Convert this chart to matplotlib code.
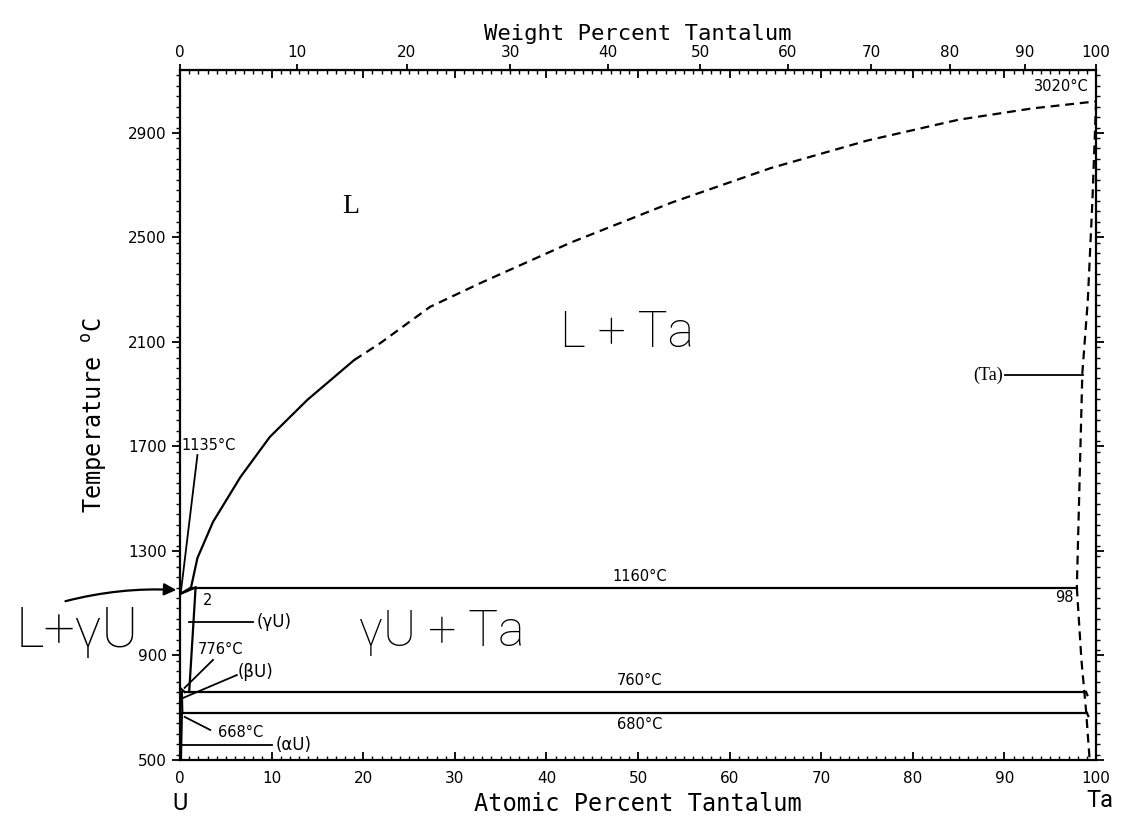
import numpy as np
import matplotlib
matplotlib.use('Agg')
import matplotlib.pyplot as plt
from matplotlib.patches import FancyArrowPatch
from matplotlib.ticker import MultipleLocator

# atomic masses used to convert at.% to wt.%
M_U = 238.03
M_TA = 180.95

# liquidus, solid part (at.% Ta, deg C)
liq_solid_at = [1.2, 1.9, 3.6, 6.6, 9.8, 13.9, 19.0]
liq_solid_T = [1160, 1273, 1411, 1583, 1736, 1878, 2030]

# liquidus, dashed part
liq_dash_at = [19.0, 21.9, 27.3, 32.8, 42.6, 53.6, 64.5, 75.0, 85.0, 93.0, 100.0]
liq_dash_T = [2030, 2096, 2234, 2325, 2479, 2632, 2765, 2870, 2950, 2993, 3020]

# (Ta) solidus and solvus on the Ta side
ta_solidus_at = [100.0, 99.6, 99.1, 98.5, 97.9]
ta_solidus_T = [3020, 2640, 2260, 1980, 1160]
ta_solvus_at = [97.9, 98.4, 98.9, 99.3]
ta_solvus_T = [1160, 883, 691, 500]

# invariant lines
invariants_T = [1160, 760, 680]
invariants_left = [1.2, 0.5, 0.2]
invariants_right = [97.9, 98.9, 99.0]
invariant_labels = ['1160°C', '760°C', '680°C']
invariant_label_above = [True, True, False]

# U-rich corner
gamma_solvus_at = [1.7, 1.0]
gamma_solvus_T = [1160, 760]
u_liq_at = [0, 1.2]
u_liq_T = [1135, 1160]
u_sol_at = [0, 1.7]
u_sol_T = [1135, 1160]
beta_top_at = [0, 0.5]
beta_top_T = [776, 760]
beta_solvus_at = [0.2, 0.25]
beta_solvus_T = [760, 680]
alpha_top_at = [0, 0.25]
alpha_top_T = [668, 680]
alpha_solvus_at = [0.2, 0.1]
alpha_solvus_T = [680, 500]

at_ticks = np.arange(0, 101, 10)
wt_ticks = np.arange(0, 101, 10)
T_ticks = np.arange(500, 3000, 400)


def at_to_wt(a):
    a = np.asarray(a, dtype=float)
    return 100 * a * M_TA / (a * M_TA + (100 - a) * M_U)


def wt_to_at(w):
    w = np.asarray(w, dtype=float)
    return 100 * (w / M_TA) / (w / M_TA + (100 - w) / M_U)


fig = plt.figure(figsize=(11.28, 8.21), dpi=100)
ax = fig.add_axes([0.1596, 0.0743, 0.8121, 0.8404])
ax.set_xlim(0, 100)
ax.set_ylim(500, 3140)

lw = 1.6
dash = (0, (4, 2.6))

ax.plot(liq_solid_at, liq_solid_T, color='black', lw=lw)
ax.plot(liq_dash_at, liq_dash_T, color='black', lw=lw, linestyle=dash)
ax.plot(ta_solidus_at, ta_solidus_T, color='black', lw=lw, linestyle=dash)
ax.plot(ta_solvus_at, ta_solvus_T, color='black', lw=lw, linestyle=dash)

for T, x0, x1, lab, above in zip(invariants_T, invariants_left, invariants_right,
                                 invariant_labels, invariant_label_above):
    ax.plot([x0, x1], [T, T], color='black', lw=lw)
    if above:
        ax.text(50.2, T + 14, lab, ha='center', va='bottom', fontsize=10.5)
    else:
        ax.text(50.2, T - 16, lab, ha='center', va='top', fontsize=10.5)

# small curl where the eutectoid lines meet the (Ta) solvus
for T, x1 in zip(invariants_T[1:], invariants_right[1:]):
    ax.plot([x1, x1 + 0.15], [T, T - 12], color='black', lw=lw)

for xs, ys in [(gamma_solvus_at, gamma_solvus_T), (u_liq_at, u_liq_T), (u_sol_at, u_sol_T),
               (beta_top_at, beta_top_T), (beta_solvus_at, beta_solvus_T),
               (alpha_top_at, alpha_top_T), (alpha_solvus_at, alpha_solvus_T)]:
    ax.plot(xs, ys, color='black', lw=lw)

# labels with leader lines
ax.text(97.6, 1120, '98', ha='right', va='center', fontsize=10.5)
ax.text(99.2, 3050, '3020°C', ha='right', va='bottom', fontsize=10.5)
ax.text(0.15, 1705, '1135°C', ha='left', va='center', fontsize=10.5)
ax.plot([1.9, 0.1], [1667, 1145], color='black', lw=1.3)
ax.text(2.5, 1112, '2', ha='left', va='center', fontsize=10.5)

ax.plot([1.0, 8.0], [1028, 1028], color='black', lw=1.3)
ax.text(8.4, 1028, '(γU)', ha='left', va='center', fontsize=12)
ax.text(1.9, 921, '776°C', ha='left', va='center', fontsize=10.5)
ax.plot([3.6, 0.5], [883, 776], color='black', lw=1.3)
ax.text(6.3, 837, '(βU)', ha='left', va='center', fontsize=12)
ax.plot([6.2, 0.3], [825, 737], color='black', lw=1.3)
ax.text(4.1, 607, '668°C', ha='left', va='center', fontsize=10.5)
ax.plot([3.3, 0.5], [615, 665], color='black', lw=1.3)
ax.plot([0.1, 10.0], [557, 557], color='black', lw=1.3)
ax.text(10.4, 557, '(αU)', ha='left', va='center', fontsize=12)

ax.plot([90.1, 98.6], [1973, 1973], color='black', lw=1.3)
ax.text(89.8, 1973, '(Ta)', ha='right', va='center', fontsize=13, family='Liberation Serif')

# phase field names
ax.text(18.6, 2616, 'L', ha='center', va='center', fontsize=20, family='Liberation Serif')
hand = dict(family=['Roboto', 'DejaVu Sans'], weight='light', color='black')
ax.text(48.8, 2134, 'L + Ta', ha='center', va='center', fontsize=36, **hand)
ax.text(28.6, 990, 'γU + Ta', ha='center', va='center', fontsize=36, **hand)
ax.text(-11.2, 990, 'L+γU', ha='center', va='center', fontsize=40, clip_on=False, **hand)
ax.text(0, 335, 'U', ha='center', va='center', fontsize=17, clip_on=False,
        family=['Roboto', 'DejaVu Sans'])
ax.text(100.4, 345, 'Ta', ha='center', va='center', fontsize=17, clip_on=False,
        family=['Roboto', 'DejaVu Sans'])

arrow = FancyArrowPatch((-12.8, 1105), (-0.1, 1150), connectionstyle='arc3,rad=-0.08',
                        arrowstyle='-|>', mutation_scale=18, lw=1.6, color='black',
                        clip_on=False)
ax.add_patch(arrow)

# axes, ticks and labels
for sp in ax.spines.values():
    sp.set_linewidth(1.6)

ax.set_xticks(at_ticks)
ax.xaxis.set_minor_locator(MultipleLocator(1))
ax.tick_params(axis='x', which='both', bottom=True, top=True, direction='in',
               labelsize=11, pad=8)
ax.tick_params(axis='x', which='major', length=6, width=1.3)
ax.tick_params(axis='x', which='minor', length=3, width=1.0)

ax.set_yticks(T_ticks)
ax.yaxis.set_minor_locator(MultipleLocator(40))
ax.tick_params(axis='y', which='both', left=True, right=True, direction='out', labelsize=11)
ax.tick_params(axis='y', which='major', length=6, width=1.3)
ax.tick_params(axis='y', which='minor', length=3, width=1.0)

secax = ax.secondary_xaxis('top', functions=(at_to_wt, wt_to_at))
secax.set_xticks(wt_ticks)
secax.tick_params(axis='x', direction='out', length=4, width=1.3, labelsize=11, pad=3)
secax.set_xlabel('Weight Percent Tantalum', fontsize=16, family='DejaVu Sans Mono', labelpad=4)

ax.set_xlabel('Atomic Percent Tantalum', fontsize=17, family='DejaVu Sans Mono', labelpad=4)
ax.set_ylabel('Temperature $^{\\mathregular{o}}$C', fontsize=17, family='DejaVu Sans Mono', labelpad=14)

fig.savefig('out.png', dpi=100)
